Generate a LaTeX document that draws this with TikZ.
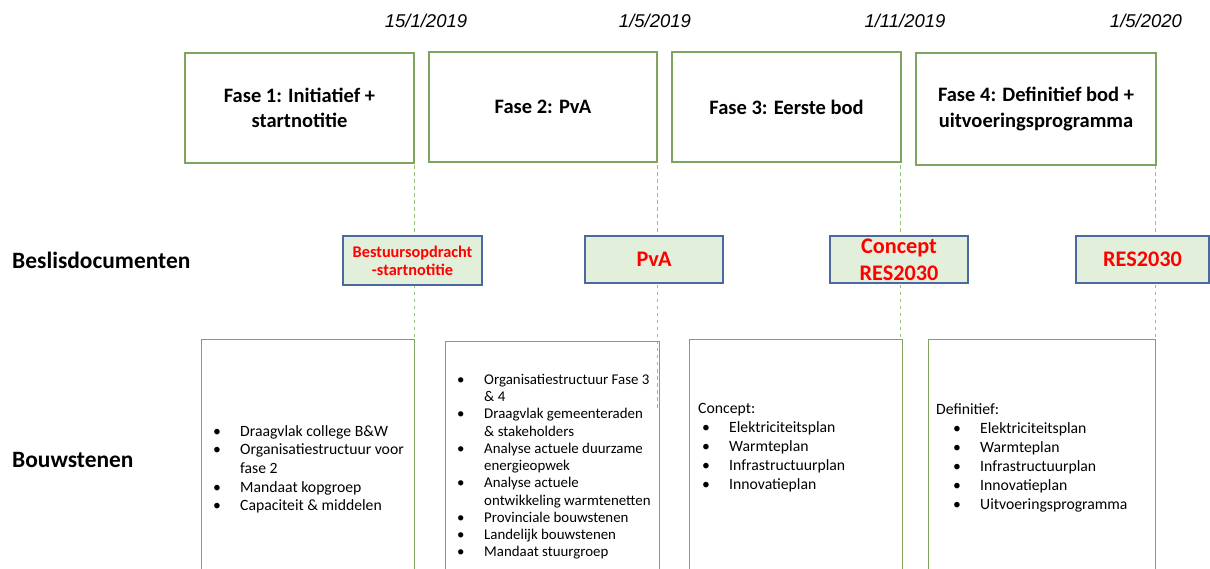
\documentclass[tikz,border=0pt]{standalone}
\usepackage{fontspec}
\setmainfont{Carlito}
\newfontfamily\datefont{Liberation Sans}
\usepackage{xcolor}
\usepackage{tikz}
\usetikzlibrary{positioning,shapes}

\definecolor{fasegreen}{RGB}{125,165,95}
\definecolor{linegreen}{RGB}{150,195,125}
\definecolor{docblue}{RGB}{75,105,160}
\definecolor{docfill}{RGB}{226,239,218}

\newlength{\px}
\setlength{\px}{0.03cm}
\newlength{\bulgap}
\setlength{\bulgap}{27\px}
\newcommand{\bitem}[2][0]{\hspace*{#1\px}\makebox[\bulgap][l]{\textbullet}#2}

\begin{document}
\begin{tikzpicture}[
            x=0.03cm, y=-0.03cm,
            box/.style 2 args={minimum width=#1*0.03cm, minimum height=#2*0.03cm},
            fase/.style={rectangle, draw=fasegreen, line width=1pt, align=center, font=\bfseries\fontsize{17.5}{21.5}\selectfont},
            doc/.style={rectangle, draw=docblue, fill=docfill, line width=1pt, inner sep=0pt, text=red, align=center},
            bouw/.style={rectangle, draw=fasegreen, line width=1pt, anchor=north west},
            lijst/.style={anchor=north west, inner sep=0pt, align=left},
            datum/.style={font=\datefont\itshape\fontsize{15.8}{18}\selectfont},
            kop/.style={anchor=west, inner sep=0pt, font=\bfseries\fontsize{20}{24}\selectfont},
            guide/.style={draw=linegreen, dashed, line width=0.8pt}
        ]
            \useasboundingbox (0,0) rectangle (1210,569);
            \clip (0,0) rectangle (1210,569);
            % Dates
            \node[datum] (t1) at ( 426,21) {15/1/2019};
            \node[datum] (t2) at ( 655,21) {1/5/2019};
            \node[datum] (t3) at ( 905,21) {1/11/2019};
            \node[datum] (t4) at (1146,21) {1/5/2020};
            % Row titles
            \node[kop] (beslis) at (12,260) {Beslisdocumenten};
            \node[kop] (bouwst) at (12,460) {Bouwstenen};
            % Milestone lines
            \coordinate (l1a) at ( 414,130); \coordinate (l1b) at ( 414,410);
            \coordinate (l2a) at ( 657,130); \coordinate (l2b) at ( 657,408);
            \coordinate (l3a) at ( 900,165); \coordinate (l3b) at ( 900,340);
            \coordinate (l4a) at (1155,165); \coordinate (l4b) at (1155,340);
            \draw[guide] (l1a) -- (l1b);
            \draw[guide] (l2a) -- (l2b);
            \draw[guide] (l3a) -- (l3b);
            \draw[guide] (l4a) -- (l4b);
            % Phases
            \node[fase, box={229}{110}] (f1) at ( 299.5,108) {Fase 1: Initiatief +\\startnotitie};
            \node[fase, box={228}{110}] (f2) at ( 543,107) {Fase 2: PvA};
            \node[fase, box={229}{110}] (f3) at ( 786.5,107) {Fase 3: Eerste bod};
            \node[fase, box={240}{112}] (f4) at (1036,109) {Fase 4: Definitief bod +\\uitvoeringsprogramma};
            % Beslisdocumenten
            \node[doc, box={139}{49}, font=\bfseries\fontsize{13.9}{15.5}\selectfont] (d1) at ( 412.5,260.5) {Bestuursopdracht\\-startnotitie};
            \node[doc, box={138}{47}, font=\bfseries\fontsize{19}{23}\selectfont] (d2) at ( 654,259.5) {PvA};
            \node[doc, box={138}{47}, font=\bfseries\fontsize{19}{23}\selectfont] (d3) at ( 899,259.5) {Concept\\RES2030};
            \node[doc, box={133}{47}, font=\bfseries\fontsize{19}{23}\selectfont] (d4) at (1142.5,259.5) {RES2030};
            % Bouwstenen
            \node[bouw, box={213}{240}] (b1) at (201,339) {};
            \node[bouw, box={214}{240}] (b2) at (445,341) {};
            \node[bouw, box={213}{240}] (b3) at (689,339) {};
            \node[bouw, box={227}{240}] (b4) at (928,339) {};
            \node[lijst, font=\fontsize{13.4}{15.9}\selectfont] (s1) at (213,425) {%
                \bitem{Draagvlak college B\&W}\\
                \bitem{Organisatiestructuur voor}\\
                \hspace*{\bulgap}fase 2\\
                \bitem{Mandaat kopgroep}\\
                \bitem{Capaciteit \& middelen}};
            \node[lijst, font=\fontsize{12.7}{14.7}\selectfont] (s2) at (457,374) {%
                \bitem{Organisatiestructuur Fase 3}\\
                \hspace*{\bulgap}\& 4\\
                \bitem{Draagvlak gemeenteraden}\\
                \hspace*{\bulgap}\& stakeholders\\
                \bitem{Analyse actuele duurzame}\\
                \hspace*{\bulgap}energieopwek\\
                \bitem{Analyse actuele}\\
                \hspace*{\bulgap}ontwikkeling warmtenetten\\
                \bitem{Provinciale bouwstenen}\\
                \bitem{Landelijk bouwstenen}\\
                \bitem{Mandaat stuurgroep}};
            \node[lijst, font=\fontsize{13.4}{16.3}\selectfont] (s3) at (698,403) {%
                Concept:\\
                \bitem[4]{Elektriciteitsplan}\\
                \bitem[4]{Warmteplan}\\
                \bitem[4]{Infrastructuurplan}\\
                \bitem[4]{Innovatieplan}};
            \node[lijst, font=\fontsize{13.4}{16.3}\selectfont] (s4) at (936,403) {%
                \setlength{\bulgap}{30\px}Definitief:\\
                \bitem[17]{Elektriciteitsplan}\\
                \bitem[17]{Warmteplan}\\
                \bitem[17]{Infrastructuurplan}\\
                \bitem[17]{Innovatieplan}\\
                \bitem[17]{Uitvoeringsprogramma}};
        \end{tikzpicture}
\end{document}
